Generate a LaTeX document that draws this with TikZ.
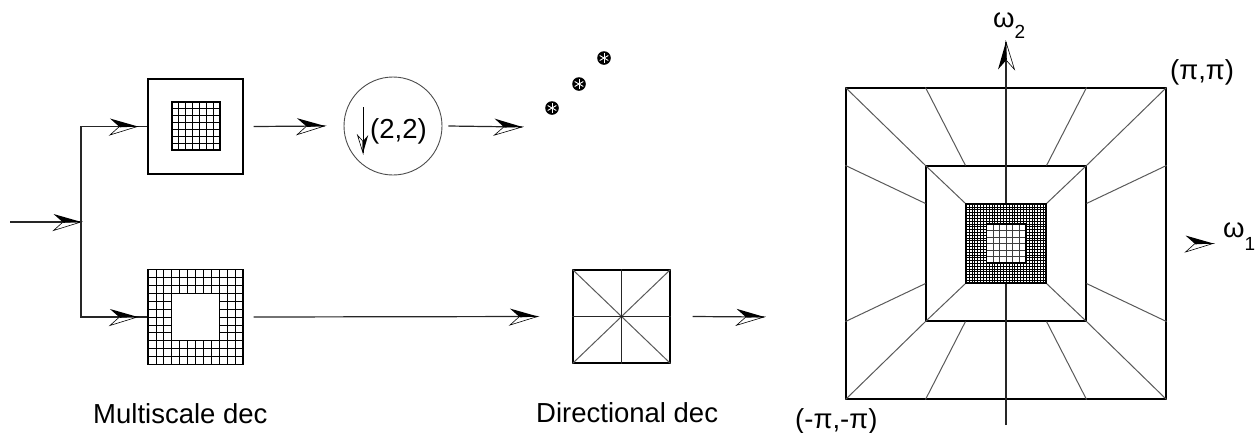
\documentclass[tikz,border=0pt]{standalone}
\usepackage{fontspec}
\setmainfont{Liberation Sans}
\usetikzlibrary{calc,decorations.markings}

\newcommand\dartshape{%
  \filldraw[fill=white,draw=black,line width=0.6pt,line join=miter] (0,0) -- (-27.5,-8.5) -- (-18,0) -- cycle;
  \fill[black] (0.5,0) -- (-27.5,8) -- (-17.5,-0.8) -- cycle;
}

\tikzset{
  dartend/.style={postaction={decorate,decoration={markings,mark=at position 1 with {\dartshape}}}},
  smalldart/.style={postaction={decorate,decoration={markings,mark=at position 1 with {\begin{scope}[scale=0.65]\dartshape\end{scope}}}}},
  conn/.style={draw=black!85,line width=1.2pt},
  box/.style={draw=black,line width=1.1pt,minimum width=95pt,minimum height=95pt,inner sep=0pt},
  lbl/.style={inner sep=0pt,anchor=base west,font=\fontsize{27.5}{32}\selectfont},
  radial/.style={draw=black!65,line width=1pt},
  gridline/.style={line width=0.8pt,draw=black},
  finegrid/.style={line width=0.45pt,draw=black},
  sq/.style={draw=black,line width=1.1pt,inner sep=0pt},
}

\begin{document}
\begin{tikzpicture}[x=1pt,y=1pt]
\useasboundingbox (0,0) rectangle (1258,-432);

% ---------- left part ----------
\coordinate (in) at (10,-222);
\coordinate (J) at (81,-222);

\node[box] (msTop) at (195.5,-126.5) {};
\node[box] (msBot) at (195.5,-317) {};

% top inner grid 7x7
\foreach \i in {0,...,7}{
  \draw[gridline] ({172+\i*48/7},-102) -- ({172+\i*48/7},-150);
  \draw[gridline] (172,{-102-\i*48/7}) -- (220,{-102-\i*48/7});
}
\draw[line width=1.2pt] (172,-102) rectangle (220,-150);

% bottom grid 12x12 with hole
\foreach \i in {0,...,12}{
  \draw[gridline] ({148+\i*95/12},-269.5) -- ({148+\i*95/12},-364.5);
  \draw[gridline] (148,{-269.5-\i*95/12}) -- (243,{-269.5-\i*95/12});
}
\filldraw[fill=white,draw=black,line width=1.2pt] (171.75,-293.25) rectangle (219.25,-340.75);
\draw[line width=1.1pt] (148,-269.5) rectangle (243,-364.5);

\node[circle,draw=black!70,line width=0.9pt,minimum size=98pt,inner sep=0pt] (ds) at (393,-126) {};
\node[lbl] (dstext) at (370,-138) {(2,2)};
\coordinate (dsa) at (363,-107);
\coordinate (dsb) at (363,-153);
\draw[line width=1pt,smalldart] (dsa) -- (dsb);

\coordinate (dsout) at (522,-127);
\foreach \x/\y in {552/-108,579/-84,604/-58}{
  \fill (\x,\y) circle (6.8);
  \foreach \a in {30,90,150}
    \draw[white,line width=0.9pt] ($(\x,\y)+(\a:5)$) -- ($(\x,\y)+(\a+180:5)$);
}

\node[draw=black,line width=1.1pt,minimum width=97pt,minimum height=93pt,inner sep=0pt] (dir) at (621.5,-316.5) {};
\draw[radial] (dir.north west) -- (dir.south east);
\draw[radial] (dir.north east) -- (dir.south west);
\draw[radial,draw=black!85] (dir.north) -- (dir.south);
\draw[radial,draw=black!85] (dir.west) -- (dir.east);
\coordinate (dirout) at (764,-317);

% connectors
\draw[conn,dartend] (in) -- (J);
\draw[conn] (J) |- (msTop.west);
\draw[conn] (J) |- (msBot.west);
\draw[conn,dartend] (J |- msTop.west) -- ([xshift=-10pt]msTop.west);
\draw[conn,dartend] (J |- msBot.west) -- ([xshift=-10pt]msBot.west);
\draw[conn,dartend] ([xshift=10pt]msTop.east) -- ([xshift=-19pt]ds.west);
\draw[conn,dartend] ([xshift=6pt]ds.east) -- (dsout);
\draw[conn,dartend] ([xshift=10pt]msBot.east) -- ([xshift=-35pt]dir.west);
\draw[conn,dartend] ([xshift=22pt]dir.east) -- (dirout);

\node[lbl] (lms) at (93,-423) {Multiscale dec};
\node[lbl] (ldd) at (536,-422) {Directional dec};

% ---------- right part ----------
\node[sq,minimum width=320pt,minimum height=311pt] (freq) at (1006,-243.5) {};
\node[sq,minimum width=160pt,minimum height=155pt] (mid) at (1006,-243.5) {};
\node[sq,minimum width=80pt,minimum height=79pt] (inner) at (1006,-243.5) {};

\foreach \c in {north west,north east,south west,south east}{
  \draw[radial] (freq.\c) -- (mid.\c);
  \draw[radial] (mid.\c) -- (inner.\c);
}
\draw[radial] (mid.north west |- freq.north) -- (inner.north west |- mid.north);
\draw[radial] (mid.north east |- freq.north) -- (inner.north east |- mid.north);
\draw[radial] (mid.south west |- freq.south) -- (inner.south west |- mid.south);
\draw[radial] (mid.south east |- freq.south) -- (inner.south east |- mid.south);
\draw[radial] (freq.west |- mid.north west) -- (mid.west |- inner.north west);
\draw[radial] (freq.west |- mid.south west) -- (mid.west |- inner.south west);
\draw[radial] (freq.east |- mid.north east) -- (mid.east |- inner.north east);
\draw[radial] (freq.east |- mid.south east) -- (mid.east |- inner.south east);

\coordinate (axb) at (1006,-425);
\coordinate (axt) at (1006,-42);
\draw[conn,dartend] (axb) -- (axt);

% dense grid
\fill[white] (966,-204) rectangle (1046,-283);
\foreach \i in {0,...,28}{
  \draw[finegrid] ({966+\i*80/28},-204) -- ({966+\i*80/28},-283);
  \draw[finegrid] (966,{-204-\i*79/28}) -- (1046,{-204-\i*79/28});
}
\draw[line width=1.1pt] (966,-204) rectangle (1046,-283);
% innermost
\fill[white] (986.5,-224) rectangle (1025.5,-263);
\foreach \i in {1,...,5}{
  \draw[line width=0.8pt,black!75] ({986.5+\i*6.5},-224) -- ({986.5+\i*6.5},-263);
  \draw[line width=0.8pt,black!75] (986.5,{-224-\i*6.5}) -- (1025.5,{-224-\i*6.5});
}
\draw[line width=1.6pt] (986.5,-224) rectangle (1025.5,-263);

\coordinate (w1a) at (1180,-243.5);
\coordinate (w1b) at (1213,-243.5);
\path[dartend] (w1a) -- (w1b);

\node[lbl] (lw1) at (1223,-237) {ω\raisebox{-13pt}{\fontsize{19}{20}\selectfont 1}};
\node[lbl] (lw2) at (993,-27) {ω\raisebox{-11pt}{\fontsize{19}{20}\selectfont 2}};
\node[lbl] (lpp) at (1170,-79) {(π,π)};
\node[lbl] (lmm) at (795,-428) {(-π,-π)};
\end{tikzpicture}
\end{document}
